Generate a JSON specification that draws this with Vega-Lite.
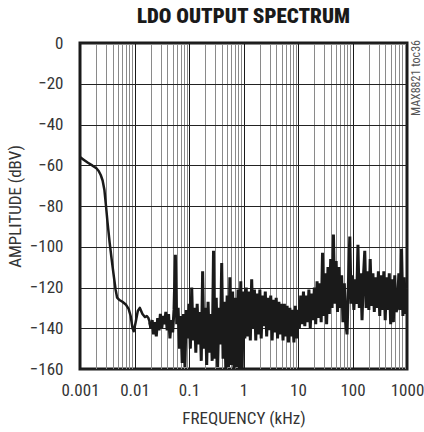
{
  "$schema": "https://vega.github.io/schema/vega-lite/v6.json",
  "autosize": {"type": "none"},
  "width": 327,
  "height": 326,
  "padding": {"left": 80, "top": 43, "right": 17, "bottom": 63},
  "background": "white",
  "title": {"text": "LDO OUTPUT SPECTRUM", "fontSize": 21, "fontWeight": 900, "font": "Roboto Condensed, Roboto, sans-serif", "color": "#1a1a1a", "offset": 7, "anchor": "middle"},
  "config": {
    "view": {"stroke": "#1a1a1a", "strokeWidth": 3},
    "axis": {"labelFont": "Roboto Condensed, Roboto, sans-serif", "titleFont": "Roboto Condensed, Roboto, sans-serif", "labelFontSize": 17, "titleFontSize": 17, "titleFontWeight": "normal", "labelColor": "#333", "titleColor": "#333", "ticks": false, "tickSize": 0, "domain": false}
  },
  "data": {"values": [
    {"f":0.001,"v":-56},{"f":0.0012,"v":-57.5},{"f":0.0014,"v":-58.8},{"f":0.0017,"v":-60.2},{"f":0.002,"v":-61.5},{"f":0.0022,"v":-62.8},{"f":0.0024,"v":-64.8},{"f":0.0026,"v":-67.5},{"f":0.0028,"v":-72},{"f":0.003,"v":-80},{"f":0.0032,"v":-88},{"f":0.0035,"v":-98},{"f":0.0038,"v":-106},{"f":0.0042,"v":-115},{"f":0.0045,"v":-121},{"f":0.0048,"v":-125},{"f":0.0052,"v":-126},{"f":0.006,"v":-127},{"f":0.007,"v":-128.5},{"f":0.0078,"v":-130.5},{"f":0.0085,"v":-134},{"f":0.0092,"v":-140},{"f":0.0097,"v":-141.5},{"f":0.0105,"v":-137},{"f":0.0115,"v":-131.5},{"f":0.0125,"v":-130},{"f":0.014,"v":-133},{"f":0.0155,"v":-134.5},{"f":0.0168,"v":-134},{"f":0.018,"v":-135},{"f":0.019,"v":-137},
    {"f":0.01995,"v":-140},{"f":0.02113,"v":-136},{"f":0.02239,"v":-143},{"f":0.02371,"v":-137},{"f":0.02512,"v":-144},{"f":0.02661,"v":-135},{"f":0.02818,"v":-141},{"f":0.02985,"v":-133},{"f":0.03162,"v":-140},{"f":0.0335,"v":-134},{"f":0.03548,"v":-138},{"f":0.03758,"v":-132},{"f":0.03981,"v":-141},{"f":0.04217,"v":-133},{"f":0.04467,"v":-145},{"f":0.04732,"v":-136},{"f":0.05012,"v":-142},{"f":0.05309,"v":-131},{"f":0.05623,"v":-104},{"f":0.05957,"v":-138},{"f":0.0631,"v":-130},{"f":0.06683,"v":-150},{"f":0.07079,"v":-134},{"f":0.07499,"v":-157},{"f":0.07943,"v":-133},{"f":0.08414,"v":-159},{"f":0.08913,"v":-131},{"f":0.09441,"v":-145},
    {"f":0.1,"v":-128},{"f":0.1059,"v":-150},{"f":0.1122,"v":-120},{"f":0.1189,"v":-146},{"f":0.1259,"v":-130},{"f":0.1334,"v":-152},{"f":0.1413,"v":-128},{"f":0.1496,"v":-148},{"f":0.1585,"v":-132},{"f":0.1679,"v":-156},{"f":0.1778,"v":-112},{"f":0.1884,"v":-150},{"f":0.1995,"v":-130},{"f":0.2113,"v":-158},{"f":0.2239,"v":-127},{"f":0.2371,"v":-152},{"f":0.2512,"v":-133},{"f":0.2661,"v":-156},{"f":0.2818,"v":-102},{"f":0.2985,"v":-155},{"f":0.3162,"v":-125},{"f":0.335,"v":-159},{"f":0.3548,"v":-130},{"f":0.3758,"v":-148},{"f":0.3981,"v":-108},{"f":0.4217,"v":-155},{"f":0.4467,"v":-127},{"f":0.4732,"v":-160},{"f":0.5012,"v":-124},{"f":0.5309,"v":-159},{"f":0.5623,"v":-115},{"f":0.5957,"v":-158},{"f":0.631,"v":-122},{"f":0.6683,"v":-160},{"f":0.7079,"v":-125},{"f":0.7499,"v":-159},{"f":0.7943,"v":-121},{"f":0.8414,"v":-160},{"f":0.8913,"v":-117},{"f":0.9441,"v":-160},
    {"f":1.0,"v":-122},{"f":1.059,"v":-145},{"f":1.122,"v":-120},{"f":1.189,"v":-144},{"f":1.259,"v":-122},{"f":1.334,"v":-146},{"f":1.413,"v":-116},{"f":1.496,"v":-140},{"f":1.585,"v":-121},{"f":1.679,"v":-146},{"f":1.778,"v":-123},{"f":1.884,"v":-143},{"f":1.995,"v":-121},{"f":2.113,"v":-145},{"f":2.239,"v":-124},{"f":2.371,"v":-139},{"f":2.512,"v":-122},{"f":2.661,"v":-144},{"f":2.818,"v":-125},{"f":2.985,"v":-141},{"f":3.162,"v":-124},{"f":3.35,"v":-146},{"f":3.548,"v":-126},{"f":3.758,"v":-142},{"f":3.981,"v":-125},{"f":4.217,"v":-145},{"f":4.467,"v":-127},{"f":4.732,"v":-143},{"f":5.012,"v":-128},{"f":5.309,"v":-146},{"f":5.623,"v":-128},{"f":5.957,"v":-144},{"f":6.31,"v":-129},{"f":6.683,"v":-147},{"f":7.079,"v":-130},{"f":7.499,"v":-144},{"f":7.943,"v":-131},{"f":8.414,"v":-147},{"f":8.913,"v":-129},{"f":9.441,"v":-145},
    {"f":10,"v":-131},{"f":10.59,"v":-140},{"f":11.22,"v":-124},{"f":11.89,"v":-138},{"f":12.59,"v":-122},{"f":13.34,"v":-139},{"f":14.13,"v":-124},{"f":14.96,"v":-137},{"f":15.85,"v":-121},{"f":16.79,"v":-140},{"f":17.78,"v":-123},{"f":18.84,"v":-136},{"f":19.95,"v":-120},{"f":21.13,"v":-138},{"f":22.39,"v":-117},{"f":23.71,"v":-135},{"f":25.12,"v":-118},{"f":26.61,"v":-137},{"f":28.18,"v":-103},{"f":29.85,"v":-134},{"f":31.62,"v":-113},{"f":33.5,"v":-138},{"f":35.48,"v":-110},{"f":37.58,"v":-133},{"f":39.81,"v":-106},{"f":42.17,"v":-130},{"f":44.67,"v":-94},{"f":47.32,"v":-128},{"f":50.12,"v":-107},{"f":53.09,"v":-132},{"f":56.23,"v":-110},{"f":59.57,"v":-130},{"f":63.1,"v":-114},{"f":66.83,"v":-137},{"f":70.79,"v":-118},{"f":74.99,"v":-137},{"f":79.43,"v":-143},{"f":84.14,"v":-118},{"f":89.13,"v":-95},{"f":94.41,"v":-128},
    {"f":100,"v":-114},{"f":105.9,"v":-131},{"f":112.2,"v":-116},{"f":118.9,"v":-128},{"f":125.9,"v":-99},{"f":133.4,"v":-130},{"f":141.3,"v":-113},{"f":149.6,"v":-136},{"f":158.5,"v":-115},{"f":167.9,"v":-102},{"f":177.8,"v":-130},{"f":188.4,"v":-112},{"f":199.5,"v":-131},{"f":211.3,"v":-106},{"f":223.9,"v":-129},{"f":237.1,"v":-113},{"f":251.2,"v":-132},{"f":266.1,"v":-115},{"f":281.8,"v":-130},{"f":298.5,"v":-112},{"f":316.2,"v":-134},{"f":335,"v":-114},{"f":354.8,"v":-131},{"f":375.8,"v":-112},{"f":398.1,"v":-136},{"f":421.7,"v":-115},{"f":446.7,"v":-131},{"f":473.2,"v":-113},{"f":501.2,"v":-138},{"f":530.9,"v":-116},{"f":562.3,"v":-137},{"f":595.7,"v":-114},{"f":631,"v":-132},{"f":668.3,"v":-130},{"f":707.9,"v":-113},{"f":749.9,"v":-131},{"f":794.3,"v":-101},{"f":841.4,"v":-134},{"f":891.3,"v":-115},{"f":944.1,"v":-133},{"f":1000,"v":-121}
  ]},
  "layer": [
    {
      "transform": [{"filter": "datum.f <= 0.02"}],
      "mark": {"type": "line", "color": "#1a1a1a", "strokeWidth": 2.5, "clip": true, "strokeJoin": "round"},
      "encoding": {
        "x": {"field": "f", "type": "quantitative", "scale": {"type": "log", "domain": [0.001, 1000], "nice": false},
          "axis": {"title": "FREQUENCY (kHz)", "format": "~g",
            "values": [0.001,0.002,0.003,0.004,0.005,0.006,0.007,0.008,0.009,0.01,0.02,0.03,0.04,0.05,0.06,0.07,0.08,0.09,0.1,0.2,0.3,0.4,0.5,0.6,0.7,0.8,0.9,1,2,3,4,5,6,7,8,9,10,20,30,40,50,60,70,80,90,100,200,300,400,500,600,700,800,900,1000],
            "labelExpr": "indexof([0.001,0.01,0.1,1,10,100,1000], datum.value) >= 0 ? datum.label : ''",
            "labelOverlap": false, "labelFlush": false, "labelPadding": 13, "titlePadding": 12,
            "grid": true, "gridWidth": 1,
            "gridColor": {"condition": {"test": "indexof([0.001,0.01,0.1,1,10,100,1000], datum.value) >= 0", "value": "#1a1a1a"}, "value": "#8a8a8a"}}},
        "y": {"field": "v", "type": "quantitative", "scale": {"domain": [-160, 0], "nice": false},
          "axis": {"title": "AMPLITUDE (dBV)", "values": [-160,-140,-120,-100,-80,-60,-40,-20,0], "grid": true, "gridColor": "#222", "gridWidth": 1, "labelPadding": 17, "titlePadding": 5}}
      }
    },
    {
      "transform": [{"filter": "datum.f >= 0.019"}],
      "mark": {"type": "line", "color": "#1a1a1a", "strokeWidth": 3, "clip": true, "strokeJoin": "miter"},
      "encoding": {
        "x": {"field": "f", "type": "quantitative"},
        "y": {"field": "v", "type": "quantitative"}
      }
    },
    {
      "data": {"values": [{"t": "MAX8821 toc36"}]},
      "mark": {"type": "text", "angle": 270, "align": "right", "baseline": "middle", "dx": 3, "dy": 9, "fontSize": 12, "font": "Roboto Condensed, Roboto, sans-serif", "color": "#555"},
      "encoding": {
        "x": {"datum": 1000, "type": "quantitative"},
        "y": {"datum": 0, "type": "quantitative"},
        "text": {"field": "t"}
      }
    }
  ]
}
